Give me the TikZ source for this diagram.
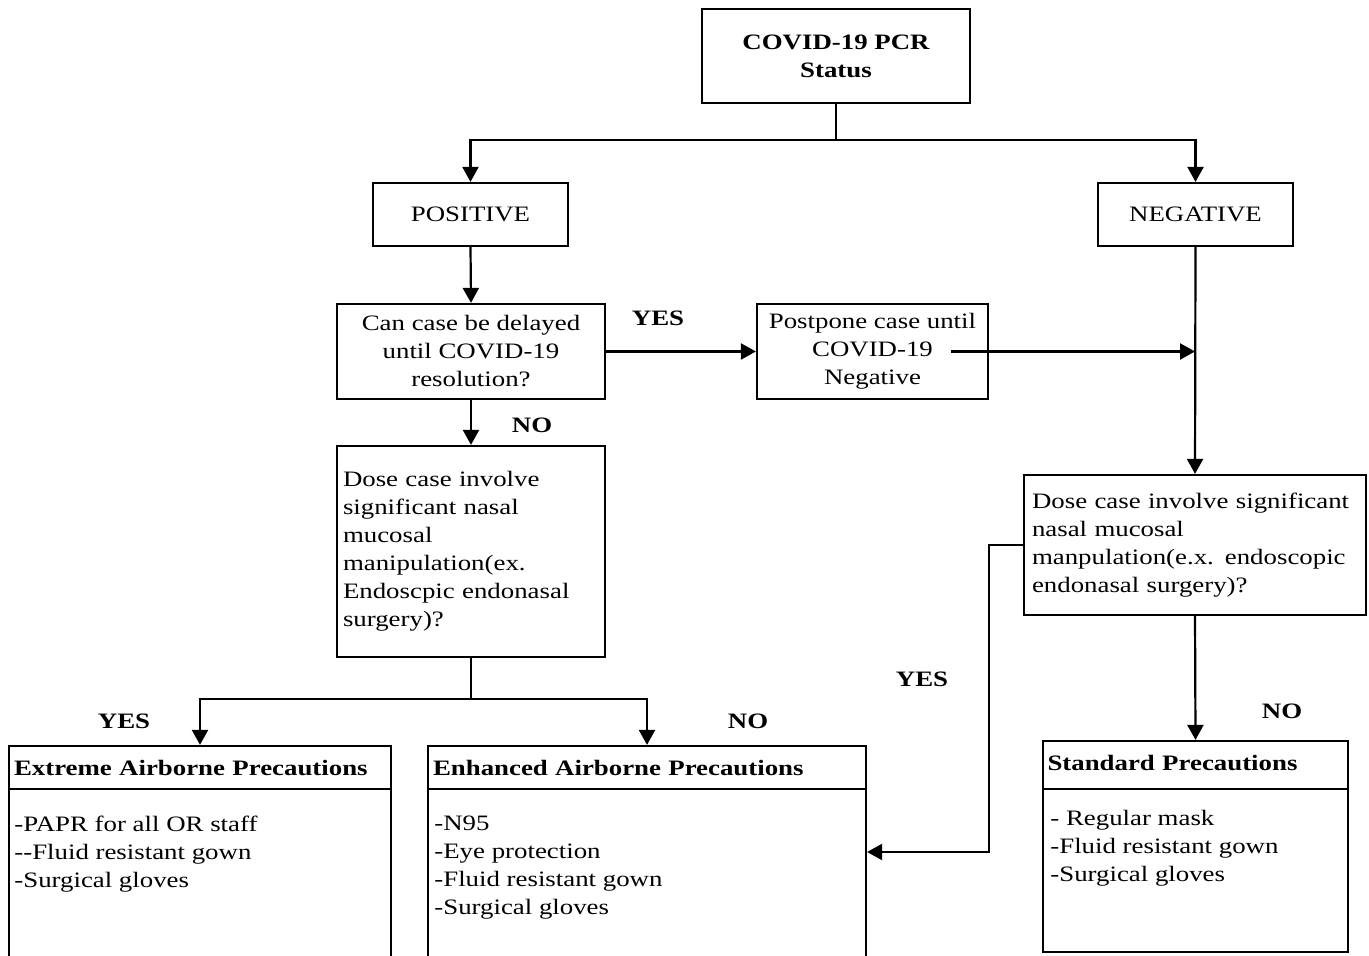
\documentclass[tikz,border=0pt]{standalone}
\usepackage{fontspec}
\setmainfont{Liberation Serif}[FakeStretch=1.22]
\usetikzlibrary{arrows.meta}
\begin{document}
\begin{tikzpicture}[x=0.5pt,y=-0.5pt,
  every node/.style={font=\fontsize{11}{14}\selectfont},
  box/.style={draw, line width=1.1pt, inner sep=0pt},
  lbl/.style={font=\fontsize{11}{14}\selectfont\bfseries, inner sep=0pt},
  items/.style={inner sep=0pt, anchor=north west, align=left},
  arr/.style={line width=1.1pt, -{Triangle[length=7.5pt,width=8pt]}},
  ln/.style={line width=1.1pt}]
\useasboundingbox (0,0) rectangle (1369,956);
\clip (0,0) rectangle (1369,956);
% boxes
\node[box, minimum width=134pt, minimum height=47pt, align=center, font=\fontsize{11}{14}\selectfont\bfseries] (top) at (836,56) {COVID-19 PCR\\Status};
\node[box, minimum width=97.5pt, minimum height=31.5pt] (pos) at (470.5,214.5) {POSITIVE};
\node[box, minimum width=97.5pt, minimum height=31.5pt] (neg) at (1195.5,214.5) {NEGATIVE};
\node[box, minimum width=134pt, minimum height=47.5pt, align=center] (delay) at (471,351.5) {Can case be delayed\\until COVID-19\\resolution?};
\node[box, minimum width=115.5pt, minimum height=47.5pt, align=center] (post) at (872.5,351.5) {Postpone case until\\COVID-19\\Negative};
\node[box, minimum width=134pt, minimum height=105.5pt, text width=128pt, inner xsep=3pt, align=left] (doseL) at (471,551.5) {Dose case involve\\significant nasal\\mucosal\\manipulation(ex.\\Endoscpic endonasal\\surgery)?};
\node[box, minimum width=171pt, minimum height=70pt, text width=163pt, inner xsep=4pt, align=left] (doseR) at (1195,545) {Dose case involve significant\\nasal mucosal\\manpulation(e.x. endoscopic\\endonasal surgery)?};
% precaution boxes
\node[box, minimum width=191pt, minimum height=21.5pt, text width=186pt, inner xsep=2.5pt, align=left, font=\fontsize{11}{14}\selectfont\bfseries] (extH) at (200,767.5) {Extreme Airborne Precautions};
\node[box, minimum width=191pt, minimum height=86.5pt] (extB) at (200,875.5) {};
\node[items] (extI) at (14,816) {-PAPR for all OR staff\\-{}-Fluid resistant gown\\-Surgical gloves};
\node[box, minimum width=219pt, minimum height=21.5pt, text width=214pt, inner xsep=2.5pt, align=left, font=\fontsize{11}{14}\selectfont\bfseries] (enhH) at (647,767.5) {Enhanced Airborne Precautions};
\node[box, minimum width=219pt, minimum height=86.5pt] (enhB) at (647,875.5) {};
\node[items] (enhI) at (434,816) {-N95\\-Eye protection\\-Fluid resistant gown\\-Surgical gloves};
\node[box, minimum width=152.5pt, minimum height=24pt, text width=148pt, inner xsep=2.25pt, align=left, font=\fontsize{11}{14}\selectfont\bfseries] (stdH) at (1195.5,765) {\raisebox{2pt}{Standard Precautions}};
\node[box, minimum width=152.5pt, minimum height=81.5pt] (stdB) at (1195.5,870.5) {};
\node[items] (stdI) at (1050,810) {- Regular mask\\-Fluid resistant gown\\-Surgical gloves};
% labels
\node[lbl] (yes1) at (658,318) {YES};
\node[lbl] (no1) at (532,425) {NO};
\node[lbl] (yes2) at (124,721) {YES};
\node[lbl] (no2) at (748,721) {NO};
\node[lbl] (yes3) at (922,679) {YES};
\node[lbl] (no3) at (1282,711) {NO};
% connectors
\coordinate (split) at (836,140);
\draw[ln] (top.south) -- (split);
\draw[arr] (split) -| (pos.north);
\draw[arr] (split) -| (neg.north);
\draw[arr] (pos.south) -- (delay.north);
\draw[arr] (delay.east) -- (post.west);
\coordinate (pstart) at (951,351.5);
\coordinate (pend) at (1195,351.5);
\draw[arr] (pstart) -- (pend);
\draw[arr] (neg.south) -- (doseR.north);
\draw[arr] (delay.south) -- (doseL.north);
\coordinate (splitL) at (471,699);
\draw[ln] (doseL.south) -- (splitL);
\draw[arr] (splitL) -| (extH.north);
\draw[arr] (splitL) -| (enhH.north);
\coordinate (jR) at (989,852);
\draw[arr] (doseR.west) -| (jR) -- (jR -| enhB.east);
\draw[arr] (doseR.south) -- (stdH.north);
\end{tikzpicture}
\end{document}
